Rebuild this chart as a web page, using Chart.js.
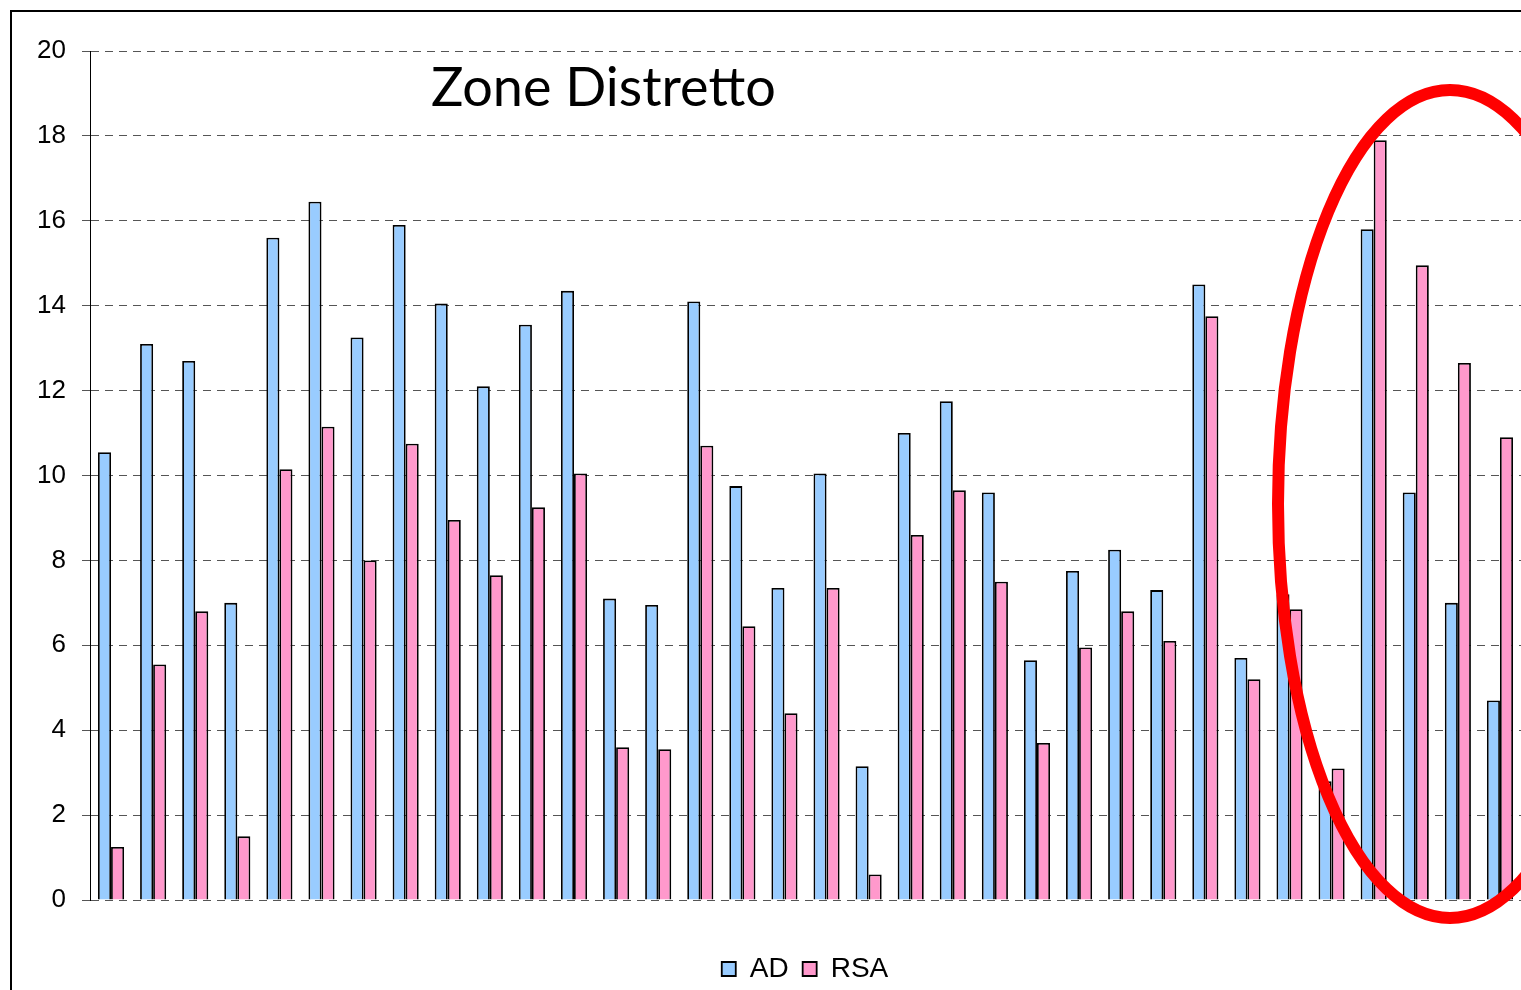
<!DOCTYPE html>
<html>
<head>
<meta charset="utf-8">
<script src="https://cdn.jsdelivr.net/npm/chart.js@4/dist/chart.umd.min.js"></script>
<style>
  html, body { margin: 0; padding: 0; background: #fff; overflow: hidden; }
  #wrap {
    position: absolute; left: 10px; top: 10px;
    width: 1600px; height: 990px;
    border-top: 2px solid #000; border-left: 2px solid #000;
  }
</style>
</head>
<body>
<div id="wrap"><canvas id="chart" width="1586" height="988"></canvas></div>
<script>
// dati
const zone = Array.from({ length: 34 }, (_, i) => "Z" + (i + 1));
const valoriAD = [10.55, 13.1, 12.7, 7.0, 15.6, 16.45, 13.25, 15.9, 14.05, 12.1, 13.55, 14.35,
  7.1, 6.95, 14.1, 9.75, 7.35, 10.05, 3.15, 11.0, 11.75, 9.6, 5.65, 7.75, 8.25, 7.3,
  14.5, 5.7, 7.2, 2.8, 15.8, 9.6, 7.0, 4.7];
const valoriRSA = [1.25, 5.55, 6.8, 1.5, 10.15, 11.15, 8.0, 10.75, 8.95, 7.65, 9.25, 10.05,
  3.6, 3.55, 10.7, 6.45, 4.4, 7.35, 0.6, 8.6, 9.65, 7.5, 3.7, 5.95, 6.8, 6.1,
  13.75, 5.2, 6.85, 3.1, 17.9, 14.95, 12.65, 10.9];
const titolo = "Zone Distretto";

// titolo dentro l'area del grafico + ellisse rossa
const extraPlugin = {
  id: "extra",
  afterDraw(chart) {
    const ctx = chart.ctx;
    ctx.save();
    ctx.font = "54px Lato";
    ctx.fillStyle = "#000";
    ctx.textBaseline = "alphabetic";
    ctx.fillText(titolo, 419, 94);

    ctx.strokeStyle = "#ff0000";
    ctx.lineWidth = 12;
    ctx.beginPath();
    ctx.ellipse(1438, 492, 172, 414, 0, 0, Math.PI * 2);
    ctx.stroke();
    ctx.restore();
  }
};

const ctx = document.getElementById("chart").getContext("2d");
new Chart(ctx, {
  type: "bar",
  data: {
    labels: zone,
    datasets: [
      {
        label: "AD",
        data: valoriAD,
        backgroundColor: "#99ccff",
        borderColor: "#000",
        borderWidth: 1.8,
        categoryPercentage: 0.62,
        barPercentage: 1.0
      },
      {
        label: "RSA",
        data: valoriRSA,
        backgroundColor: "#ff99cc",
        borderColor: "#000",
        borderWidth: 1.8,
        categoryPercentage: 0.62,
        barPercentage: 1.0
      }
    ]
  },
  options: {
    responsive: false,
    animation: false,
    layout: { padding: { top: 39, right: 0, bottom: 7, left: 0 } },
    scales: {
      x: {
        grid: { display: false },
        border: { display: false },
        ticks: { display: false },
        afterFit: (scale) => { scale.height = 41; }
      },
      y: {
        min: 0,
        max: 20,
        afterFit: (scale) => { scale.width = 78; },
        ticks: {
          stepSize: 2,
          color: "#000",
          padding: 16,
          font: { family: "Liberation Sans", size: 26 }
        },
        grid: {
          color: "#555",
          tickColor: "#555",
          tickLength: 8,
          lineWidth: 1
        },
        border: { display: true, color: "#000", width: 1, dash: [8, 6] }
      },
      // spazio vuoto a destra (il grafico originale continua oltre il bordo)
      destra: {
        position: "right",
        min: 0,
        max: 20,
        grid: { display: false },
        border: { display: false },
        ticks: { display: false },
        afterFit: (scale) => { scale.width = 77; }
      }
    },
    plugins: {
      legend: {
        position: "bottom",
        labels: {
          color: "#000",
          boxWidth: 14,
          boxHeight: 14,
          padding: 14,
          font: { family: "Liberation Sans", size: 28 }
        }
      },
      tooltip: { enabled: false }
    }
  },
  plugins: [extraPlugin]
});
</script>
</body>
</html>
